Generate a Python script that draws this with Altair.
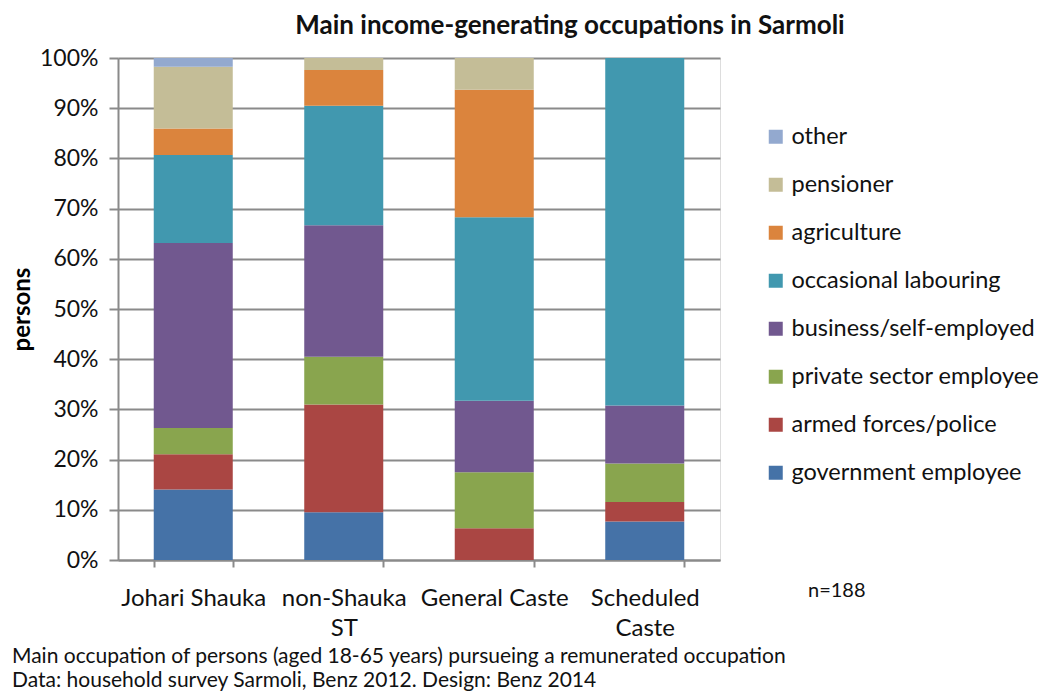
import altair as alt
import pandas as pd

# ---- data (counts of persons; n=188) ----
groups = ["Johari Shauka", "non-Shauka ST", "General Caste", "Scheduled Caste"]
occupations = [
    "government employee",
    "armed forces/police",
    "private sector employee",
    "business/self-employed",
    "occasional labouring",
    "agriculture",
    "pensioner",
    "other",
]
colors = ["#4572A7", "#AA4643", "#89A54E", "#71588F", "#4198AF", "#DB843D", "#C4BD97", "#93A9CF"]

johari = [8, 4, 3, 21, 10, 3, 7, 1]
non_shauka = [4, 9, 4, 11, 10, 3, 1, 0]
general = [0, 4, 7, 9, 23, 16, 4, 0]
scheduled = [2, 1, 2, 3, 18, 0, 0, 0]

title_text = "Main income-generating occupations in Sarmoli"
y_title = "persons"
n_label = "n=188"
footnote = [
    "Main occupation of persons (aged 18-65 years) pursueing a remunerated occupation",
    "Data:  household survey Sarmoli, Benz 2012. Design: Benz 2014",
]

rows = []
for g, vals in zip(groups, [johari, non_shauka, general, scheduled]):
    for i, (occ, v) in enumerate(zip(occupations, vals)):
        rows.append({"group": g, "occupation": occ, "count": v, "order": i})
df = pd.DataFrame(rows)

FONT = "Lato"
GRID = "#8a8a8a"

bars = alt.Chart(df).mark_bar().encode(
    x=alt.X(
        "group:N",
        sort=groups,
        title=None,
        scale=alt.Scale(paddingInner=0.475, paddingOuter=0.2375),
        axis=alt.Axis(
            labelFont=FONT,
            labelFontSize=24,
            labelColor="#111",
            labelAngle=0,
            labelPadding=19,
            labelLineHeight=30,
            labelBaseline="top",
            labelExpr="datum.label == 'non-Shauka ST' ? ['non-Shauka', 'ST'] : datum.label == 'Scheduled Caste' ? ['Scheduled', 'Caste'] : datum.label",
            labelLimit=200,
            tickBand="extent",
            tickSize=7,
            tickColor=GRID,
            tickWidth=2,
            domainColor=GRID,
            domainWidth=2,
            grid=False,
        ),
    ),
    y=alt.Y(
        "count:Q",
        stack="normalize",
        title=y_title,
        scale=alt.Scale(domain=[0, 1], nice=False),
        axis=alt.Axis(
            format=".0%",
            values=[i / 10 for i in range(11)],
            labelFont=FONT,
            labelFontSize=23,
            labelColor="#111",
            labelPadding=11,
            tickSize=9,
            tickColor=GRID,
            tickWidth=2,
            domainColor=GRID,
            domainWidth=2,
            gridColor=GRID,
            gridWidth=2,
            titleFont=FONT,
            titleFontSize=24,
            titleFontWeight="bold",
            titleColor="#000",
            titleAngle=270,
            titleX=-96,
            titleY=251,
            titleAlign="center",
            titleBaseline="middle",
        ),
    ),
    color=alt.Color(
        "occupation:N",
        scale=alt.Scale(domain=occupations[::-1], range=colors[::-1]),
        legend=alt.Legend(
            title=None,
            orient="none",
            legendX=646,
            legendY=67,
            symbolType="square",
            symbolSize=196,
            symbolStrokeWidth=0,
            labelFont=FONT,
            labelFontSize=23.5,
            labelColor="#111",
            labelOffset=4,
            rowPadding=23.0,
            labelLimit=400,
        ),
    ),
    order=alt.Order("order:Q", sort="ascending"),
)

one = pd.DataFrame({"a": [0]})
n_text = alt.Chart(one).mark_text(
    text=n_label, font=FONT, fontSize=20, color="#111", align="left", baseline="middle"
).encode(x=alt.value(690), y=alt.value(533))

foot = alt.Chart(one).mark_text(
    text=footnote, font=FONT, fontSize=21, color="#111", align="left", baseline="middle", lineHeight=24
).encode(x=alt.value(-106), y=alt.value(599))

chart = (
    alt.layer(bars, n_text, foot)
    .properties(
        width=602,
        height=502,
        autosize=alt.AutoSizeParams(type="none"),
        padding={"left": 110, "top": 50, "right": 327, "bottom": 132},
        title=alt.TitleParams(
            title_text,
            font=FONT,
            fontSize=26,
            fontWeight="bold",
            color="#111",
            anchor="middle",
            dx=151,
            offset=8,
        ),
    )
    .configure_view(stroke=None)
    .configure(background="white")
)

chart.save("out.html", embed_options={"renderer": "svg", "actions": False})
